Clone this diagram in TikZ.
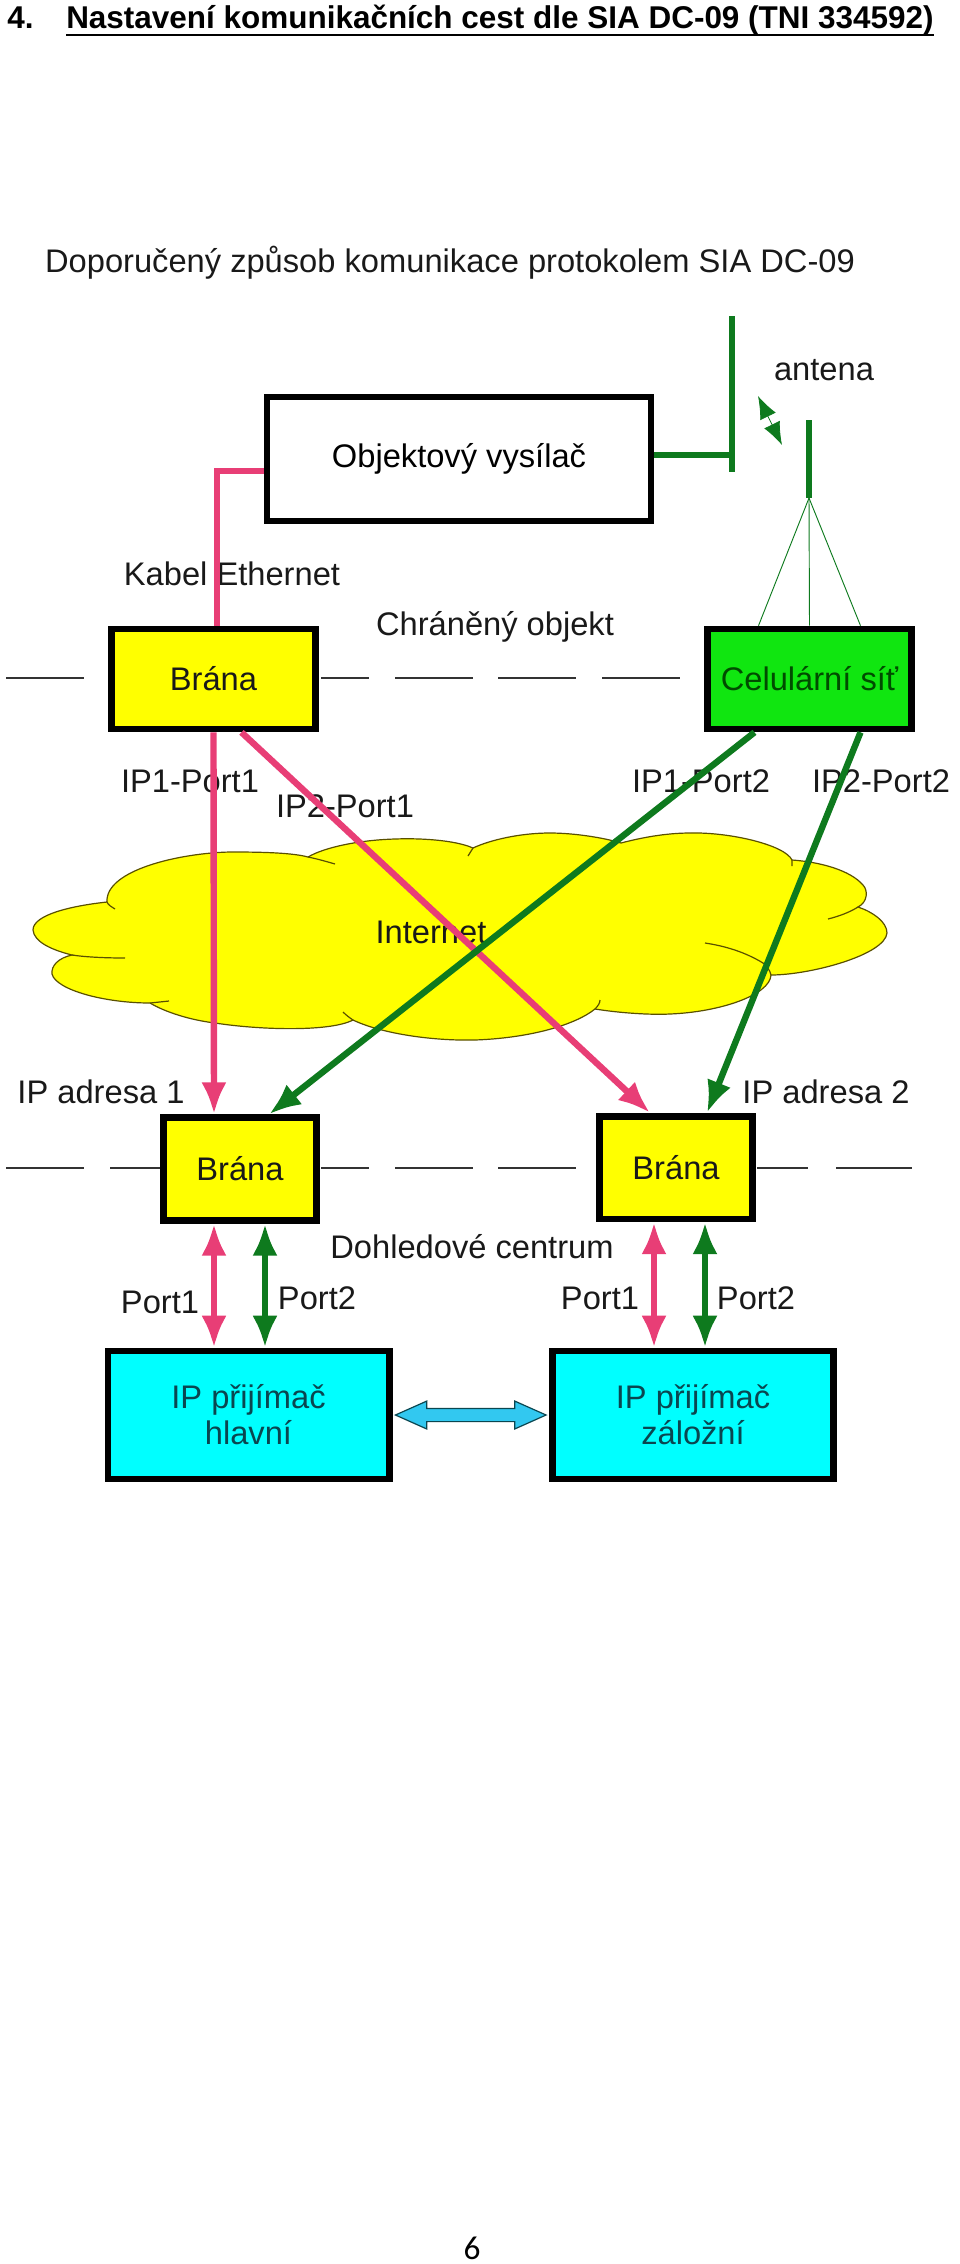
\documentclass[tikz,border=0pt]{standalone}
\usepackage{fontspec}
\setmainfont{Liberation Sans}
\newfontfamily\pagefont{Carlito}
\usetikzlibrary{arrows.meta, calc, positioning, shapes.arrows}

\definecolor{ethpink}{RGB}{232,62,118}
\definecolor{gsmgreen}{RGB}{14,122,30}
\definecolor{branayellow}{RGB}{255,255,0}
\definecolor{celgreen}{RGB}{16,230,16}
\definecolor{rxcyan}{RGB}{0,255,255}
\definecolor{linkblue}{RGB}{50,200,240}
\definecolor{rxtext}{RGB}{10,70,80}
\definecolor{cloudline}{RGB}{90,80,0}

\tikzset{
  lbl/.style={font=\fontsize{24.5}{27}\selectfont, inner sep=0pt, text=black!90},
  box/.style={shape=rectangle, draw=black, line width=5pt, inner sep=0pt},
  brana/.style={box, fill=branayellow, minimum height=75pt, minimum width=153pt},
  branasmall/.style={box, fill=branayellow, minimum height=77pt, minimum width=115pt},
  prijimac/.style={box, fill=rxcyan, minimum height=96pt, minimum width=211pt, align=center},
  ethline/.style={draw=ethpink, line width=4.8pt},
  gsmline/.style={draw=gsmgreen, line width=4.8pt},
  ethto/.style={ethline, -{Latex[length=24pt, width=19pt]}},
  gsmto/.style={gsmline, -{Latex[length=24pt, width=19pt]}},
  ethboth/.style={ethline, {Latex[length=24pt, width=19pt]}-{Latex[length=24pt, width=19pt]}},
  gsmboth/.style={gsmline, {Latex[length=24pt, width=19pt]}-{Latex[length=24pt, width=19pt]}},
}

\begin{document}
\begin{tikzpicture}[x=0.75pt, y=-0.75pt]
\useasboundingbox (0,0) rectangle (960,2264);

% heading
\node[anchor=base west, inner sep=0pt, font=\fontsize{23.6}{27}\selectfont\bfseries] (num) at (7,28) {4.};
\node[anchor=base west, inner sep=0pt, font=\fontsize{23.6}{27}\selectfont\bfseries] (head) at (66,28) {Nastavení komunikačních cest dle SIA DC-09 (TNI 334592)};
\draw[line width=1.6pt] (head.south west) -- (head.south east);
\node[lbl] (subhead) at (450,263) {Doporučený způsob komunikace protokolem SIA DC-09};

% internet cloud
\draw[fill=branayellow, draw=cloudline, line width=0.9pt]
  (107,902) .. controls (70,906) and (33,915) .. (33,930)
  .. controls (34,942) and (52,950) .. (72,955)
  .. controls (58,958) and (51,966) .. (52,974)
  .. controls (56,990) and (105,1003) .. (150,1003)
  .. controls (165,1012) and (190,1020) .. (215,1023)
  .. controls (260,1030) and (330,1032) .. (353,1020)
  .. controls (380,1033) and (430,1041) .. (475,1040)
  .. controls (530,1038) and (575,1025) .. (595,1009)
  .. controls (620,1013) and (650,1015) .. (670,1014)
  .. controls (720,1012) and (770,995) .. (771,975)
  .. controls (810,975) and (885,955) .. (887,933)
  .. controls (887,922) and (873,912) .. (858,907)
  .. controls (868,902) and (868,890) .. (863,885)
  .. controls (850,870) and (820,862) .. (792,860)
  .. controls (785,845) and (730,832) .. (690,833)
  .. controls (665,833) and (640,838) .. (621,843)
  .. controls (605,838) and (575,833) .. (550,833)
  .. controls (520,833) and (490,840) .. (473,848)
  .. controls (455,840) and (420,838) .. (395,839)
  .. controls (360,840) and (325,847) .. (308,857)
  .. controls (290,852) and (250,852) .. (230,852)
  .. controls (180,853) and (105,870) .. (107,902) -- cycle;
\draw[draw=cloudline, line width=0.9pt]
  (107,902) .. controls (108,905) and (112,907) .. (115,909)
  (72,955) .. controls (85,957) and (105,958) .. (125,958)
  (150,1003) -- (169,1001)
  (353,1020) .. controls (350,1018) and (346,1015) .. (343,1012)
  (595,1009) .. controls (598,1006) and (600,1003) .. (600,1000)
  (771,975) .. controls (770,970) and (766,965) .. (763,963) .. controls (745,952) and (725,946) .. (705,943)
  (858,907) .. controls (850,912) and (840,916) .. (828,919)
  (792,860) -- (792,866)
  (473,848) -- (468,856)
  (308,857) .. controls (318,859) and (328,862) .. (335,864);

% object and centre boundaries
\draw[black!80, line width=0.8pt]
  (6,678)--(84,678) (321,678)--(369,678) (395,678)--(473,678) (498,678)--(576,678) (602,678)--(680,678)
  (6,1168)--(84,1168) (110,1168)--(160,1168) (321,1168)--(369,1168) (395,1168)--(473,1168)
  (498,1168)--(576,1168) (757,1168)--(808,1168) (836,1168)--(912,1168);

% texts
\node[lbl] (antena) at (824,370) {antena};
\node[lbl] (kabel) at (232,574) {Kabel Ethernet};
\node[lbl] (chraneny) at (495,627) {Chráněný objekt};
\node[lbl] (ip1p1) at (190,781) {IP1-Port1};
\node[lbl] (ip2p1) at (345,806) {IP2-Port1};
\node[lbl] (ip1p2) at (701,781) {IP1-Port2};
\node[lbl] (ip2p2) at (881,781) {IP2-Port2};
\node[lbl] (internet) at (431,932) {Internet};
\node[lbl] (adr1) at (101,1092) {IP adresa 1};
\node[lbl] (adr2) at (826,1092) {IP adresa 2};
\node[lbl] (dohled) at (472,1247) {Dohledové centrum};
\node[lbl] (port1a) at (160,1302) {Port1};
\node[lbl] (port2a) at (317,1298) {Port2};
\node[lbl] (port1b) at (600,1298) {Port1};
\node[lbl] (port2b) at (756,1298) {Port2};

% blocks
\node[box, fill=white, minimum height=93pt, minimum width=288pt, font=\fontsize{24.5}{27}\selectfont] (vysilac) at (459,459) {Objektový vysílač};
\node[brana, lbl, box] (brana1) at (213.5,679) {Brána};
\node[brana, lbl, box, fill=celgreen, text=black!70!green] (cel) at (809.5,679) {Celulární síť};
\node[branasmall, lbl, box] (brana2) at (240,1169) {Brána};
\node[branasmall, lbl, box] (brana3) at (676,1167.5) {Brána};
\node[prijimac, lbl, box, text=rxtext] (rx1) at (248.5,1415) {IP přijímač\\hlavní};
\node[prijimac, lbl, box, text=rxtext] (rx2) at (693,1415) {IP přijímač\\záložní};

% antennas
\coordinate (anttop) at (732,316);
\coordinate (antbot) at (732,472);
\coordinate (cellant) at (809,420);
\coordinate (cellfoot) at (809,498);
\draw[gsmline] (anttop) -- (antbot);
\draw[gsmline] (vysilac.east |- 0,455) -- (732,455);
\draw[gsmline] (cellant) -- (cellfoot);
\draw[gsmgreen, line width=0.7pt] (cellfoot) -- ($(cel.north)+(-51,0)$);
\draw[gsmgreen, line width=0.7pt] (cellfoot) -- (cel.north);
\draw[gsmgreen, line width=0.7pt] (cellfoot) -- ($(cel.north)+(51,0)$);
\coordinate (radioa) at (758,396);
\coordinate (radiob) at (782,445);
\draw[gsmgreen, line width=0.6pt, {Latex[length=17pt, width=13pt]}-{Latex[length=17pt, width=13pt]}] (radioa) -- (radiob);

% ethernet cable
\draw[ethline] (217,626) |- (vysilac.west |- 0,471);

% links through the internet
\draw[ethto] (brana1.south) -- (brana2.north -| 214,0);
\draw[ethto] ($(brana1.south)+(28,0)$) -- ($(brana3.north)+(-26,0)$);
\draw[gsmto] ($(cel.south)+(-55,0)$) -- ($(brana2.north)+(29,0)$);
\draw[gsmto] ($(cel.south)+(51,0)$) -- ($(brana3.north)+(31,0)$);

% gateway to receiver
\draw[ethboth] (brana2.south -| 214,0) -- (rx1.north -| 214,0);
\draw[gsmboth] (brana2.south -| 265,0) -- (rx1.north -| 265,0);
\draw[ethboth] (brana3.south -| 654,0) -- (rx2.north -| 654,0);
\draw[gsmboth] (brana3.south -| 705,0) -- (rx2.north -| 705,0);

% link between receivers
\node[shape=double arrow, draw=rxtext, fill=linkblue, line width=0.9pt, inner sep=4.5pt,
  minimum width=20pt, minimum height=113pt, double arrow head extend=5.5pt, double arrow head indent=0pt,
  double arrow tip angle=48] (rxlink) at ($(rx1.east)!0.5!(rx2.west)$) {};

% page number
\node[inner sep=0pt, font=\fontsize{25}{28}\pagefont] (pagenum) at (472,2248) {6};
\end{tikzpicture}
\end{document}
